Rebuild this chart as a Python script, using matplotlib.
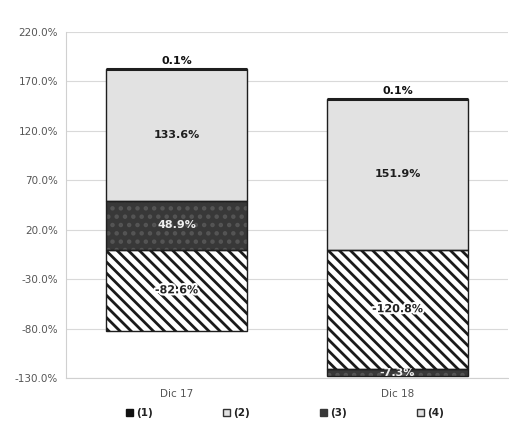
import matplotlib
matplotlib.use("Agg")
import matplotlib.pyplot as plt
import matplotlib.patheffects as pe
from matplotlib.patches import Patch
import numpy as np

plt.rcParams['font.family'] = ['DejaVu Sans']
plt.rcParams['hatch.linewidth'] = 2.0

# Data
categories = ["Dic 17", "Dic 18"]
series_names = ["(4)", "(3)", "(2)", "(1)"]          # stacking order, bottom-up
s4 = [-82.6, -120.8]
s3 = [48.9, -7.3]
s2 = [133.6, 151.9]
s1 = [0.1, 0.1]
y_ticks = [-130, -80, -30, 20, 70, 120, 170, 220]

series = [s4, s3, s2, s1]
styles = [
    dict(face="white", hatch="\\\\\\", hcolor="#1a1a1a", text="#222222", halo=True, lw=1.0),
    dict(face="#383838", hatch="..", hcolor="#555555", text="#f0f0f0", halo=False, lw=1.0),
    dict(face="#e2e2e2", hatch=None, hcolor="#e2e2e2", text="#1e1e1e", halo=False, lw=1.0),
    dict(face="#111111", hatch=None, hcolor="#111111", text="#111111", halo=False, lw=2.2),
]

fig = plt.figure(figsize=(5.09, 4.33), dpi=100)
ax = fig.add_axes([0.130, 0.127, 0.868, 0.799])

x = np.arange(len(categories))
width = 0.64
pos_base = np.zeros(len(categories))
neg_base = np.zeros(len(categories))

for vals, st in zip(series, styles):
    vals = np.array(vals)
    bottoms = np.where(vals >= 0, pos_base, neg_base)
    # fill + pattern
    ax.bar(x, vals, width, bottom=bottoms, color=st["face"], hatch=st["hatch"],
           edgecolor=st["hcolor"], linewidth=0, zorder=2)
    # outline
    ax.bar(x, vals, width, bottom=bottoms, fill=False, edgecolor="#1e1e1e",
           linewidth=st["lw"], zorder=3)
    for xi, v, b in zip(x, vals, bottoms):
        label = f"{v:.1f}%"
        if st is styles[3]:
            ax.text(xi, b + v + 3, label, ha="center", va="bottom", fontsize=8,
                    fontweight="bold", color=st["text"], zorder=5)
        else:
            t = ax.text(xi, b + v / 2, label, ha="center", va="center", fontsize=8,
                        fontweight="bold", color=st["text"], zorder=5)
            if st["halo"]:
                t.set_path_effects([pe.withStroke(linewidth=3, foreground="white")])
    pos_base = pos_base + np.where(vals >= 0, vals, 0)
    neg_base = neg_base + np.where(vals < 0, vals, 0)

ax.set_xlim(-0.5, 1.5)
ax.set_ylim(-130, 220)
ax.set_yticks(y_ticks)
ax.set_yticklabels([f"{t:.1f}%" for t in y_ticks], fontsize=7.5, color="#555555")
ax.set_xticks(x)
ax.set_xticklabels(categories, fontsize=7.5, color="#555555")
ax.tick_params(axis="both", length=0, pad=6)
ax.tick_params(axis="x", pad=8)
ax.yaxis.grid(True, color="#d9d9d9", linewidth=0.8, zorder=0)
ax.set_axisbelow(True)
for side in ("top", "right"):
    ax.spines[side].set_visible(False)
ax.spines["left"].set_color("#d0d0d0")
ax.spines["bottom"].set_color("#d0d0d0")

handles = [
    Patch(facecolor="#111111", edgecolor="#111111", label="(1)"),
    Patch(facecolor="#e2e2e2", edgecolor="#333333", label="(2)"),
    Patch(facecolor="#383838", edgecolor="#383838", label="(3)"),
    Patch(facecolor="#e2e2e2", edgecolor="#333333", label="(4)"),
]
leg = fig.legend(handles=handles, loc="center", bbox_to_anchor=(0.56, 0.046), ncol=4,
                 frameon=False, handlelength=0.7, handleheight=0.7, handletextpad=0.3,
                 columnspacing=6.7, prop=dict(size=7.5, weight="bold"))
for txt in leg.get_texts():
    txt.set_color("#222222")

fig.savefig("out.png", dpi=100)
